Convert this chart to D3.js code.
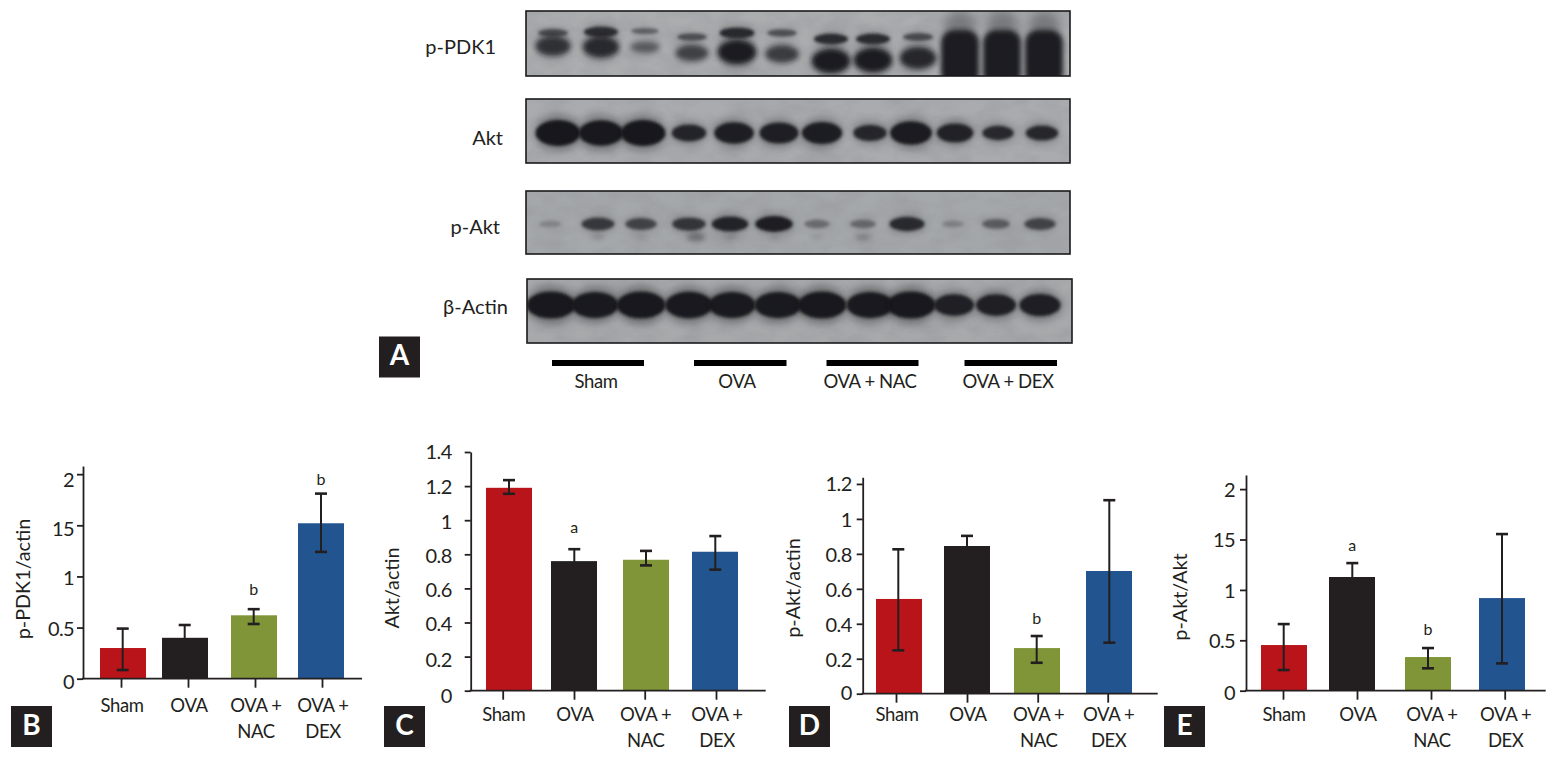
<!DOCTYPE html>
<html><head><meta charset="utf-8">
<script src="https://cdn.jsdelivr.net/npm/d3@7"></script>
<style>
html,body{margin:0;padding:0;background:#fff}
svg{display:block}
text{font-family:Lato,"Noto Sans",sans-serif;fill:#231f20}
</style></head><body>
<script>
// ---------- DATA ----------
const categories = ["Sham","OVA","OVA + NAC","OVA + DEX"];
const categoryLines = [["Sham"],["OVA"],["OVA +","NAC"],["OVA +","DEX"]];
const barColors = ["#b9141a","#231f20","#7f9537","#225490"];

const pdk1Means = [0.30,0.40,0.62,1.52];
const pdk1High  = [0.49,0.525,0.68,1.81];
const pdk1Low   = [0.085,0.30,0.535,1.24];
const pdk1Marks = ["","","b","b"];
const pdk1Ticks = [0,0.5,1,1.5,2];
const pdk1TickLabels = ["0","0.5","1","15","2"];

const aktMeans = [1.19,0.76,0.768,0.815];
const aktHigh  = [1.235,0.83,0.82,0.907];
const aktLow   = [1.155,0.70,0.735,0.71];
const aktMarks = ["","a","",""];
const aktTicks = [0,0.2,0.4,0.6,0.8,1,1.2,1.4];
const aktTickLabels = ["0","0.2","0.4","0.6","0.8","1","1.2","1.4"];

const pAktMeans = [0.542,0.845,0.261,0.702];
const pAktHigh  = [0.826,0.903,0.33,1.107];
const pAktLow   = [0.248,0.79,0.177,0.292];
const pAktMarks = ["","","b",""];
const pAktTicks = [0,0.2,0.4,0.6,0.8,1,1.2];
const pAktTickLabels = ["0","0.2","0.4","0.6","0.8","1","1.2"];

const ratioMeans = [0.453,1.128,0.334,0.919];
const ratioHigh  = [0.661,1.266,0.423,1.554];
const ratioLow   = [0.205,1.0,0.222,0.271];
const ratioMarks = ["","a","b",""];
const ratioTicks = [0,0.5,1,1.5,2];
const ratioTickLabels = ["0","0.5","1","15","2"];

// blot band strengths, 12 lanes (0 to 1), read by eye
const blotPdk1Upper = [.5,.85,.28,.45,.9,.45,.85,.85,.5,0,0,0];
const blotPdk1Lower = [.72,.82,.28,.55,1,.6,1,1,.85,0,0,0];
const blotPdk1Heavy = [0,0,0,0,0,0,0,0,0,1,1,1];
const blotAkt   = [1,.98,1,.5,.75,.72,.78,.45,.85,.6,.35,.4];
const blotPakt  = [.12,.72,.62,.75,.92,.98,.3,.32,.85,.12,.42,.62];
const blotPaktTail = [0,.15,.1,.55,.15,.05,.1,.32,0,0,0,0];
const blotActin = [1,.95,1,.97,.95,.95,1,.95,1,.75,.75,.78];

// ---------- LAYOUT ----------
const W = 1556, H = 757;
const panels = [
 {id:"B",title:"p-PDK1/actin",means:pdk1Means,high:pdk1High,low:pdk1Low,marks:pdk1Marks,ticks:pdk1Ticks,labels:pdk1TickLabels,
  axisX:83,axisEnd:362,y0:678.7,yTopPx:466,yTop:2.08,tickX:[121,188,255,322],barX:[123,185,254,321],errX:[122.7,184.7,253.7,321],
  nudge:[3,2,2,4,6],pad:3,titleX:25,titleY:579,markY:[0,0,591,481],badgeX:11,catY:712},
 {id:"C",title:"Akt/actin",means:aktMeans,high:aktHigh,low:aktLow,marks:aktMarks,ticks:aktTicks,labels:aktTickLabels,
  axisX:470.7,axisEnd:765.7,y0:690.7,yTopPx:452,yTop:1.4,tickX:[502.7,574,644.7,716],barX:[509,574,646,715],errX:[509,574.3,646,715.3],
  nudge:[5,3,2,2,2,2,1,0],pad:13,titleX:394,titleY:588,markY:[0,529,0,0],badgeX:384,catY:720.5},
 {id:"D",title:"p-Akt/actin",means:pAktMeans,high:pAktHigh,low:pAktLow,marks:pAktMarks,ticks:pAktTicks,labels:pAktTickLabels,
  axisX:862.7,axisEnd:1157.7,y0:693.7,yTopPx:477.3,yTop:1.238,tickX:[896,967,1037.7,1107.7],barX:[899,967,1037,1109],errX:[898.3,967,1036.7,1109.3],
  nudge:[-1,1,1,1,1,1,0],pad:5,titleX:795,titleY:588,markY:[0,0,620,0],badgeX:789,catY:720.5},
 {id:"E",title:"p-Akt/Akt",means:ratioMeans,high:ratioHigh,low:ratioLow,marks:ratioMarks,ticks:ratioTicks,labels:ratioTickLabels,
  axisX:1246,axisEnd:1545.7,y0:690.7,yTopPx:475,yTop:2.14,tickX:[1283,1357,1431,1504.7],barX:[1284,1352,1428,1502],errX:[1283.7,1352.3,1428,1502],
  nudge:[2,1,1,1,1],pad:5,titleX:1182,titleY:597,markY:[0,547,631,0],badgeX:1164,catY:720.5}
];
const barW = 46, capW = 12;
const laneIdx = d3.range(12);

const svg = d3.select("body").append("svg").attr("width",W).attr("height",H).attr("viewBox",`0 0 ${W} ${H}`);
const defs = svg.append("defs");
[["b1",1.6],["b2",2.6],["b4",4.5],["b6",6]].forEach(([id,s])=>{
  defs.append("filter").attr("id",id).attr("x","-50%").attr("y","-80%").attr("width","200%").attr("height","260%")
      .append("feGaussianBlur").attr("stdDeviation",s);
});
// grain for the film background
const grain = defs.append("filter").attr("id","grain").attr("x","0").attr("y","0").attr("width","100%").attr("height","100%");
grain.append("feTurbulence").attr("type","fractalNoise").attr("baseFrequency","0.035 0.06").attr("numOctaves",3).attr("seed",4);
grain.append("feColorMatrix").attr("values","0 0 0 0 0.2  0 0 0 0 0.2  0 0 0 0 0.22  0.9 0 0 0 -0.33");

// ---------- BLOTS ----------
const blotFrames = [
 {name:"p-PDK1",x:526,y:11,w:544,h:65,labelRight:496,labelY:49,bg:"#abadaf"},
 {name:"Akt",x:526,y:99,w:544,h:64,labelRight:503,labelY:140,bg:"#a9abae"},
 {name:"p-Akt",x:526,y:191,w:544,h:63,labelRight:500,labelY:229,bg:"#a5a8ab"},
 {name:"β-Actin",x:527,y:279,w:545,h:64,labelRight:508,labelY:309,bg:"#a7a9ab"}
];
function frame(f,i){
  const cid="clip"+i;
  defs.append("clipPath").attr("id",cid).append("rect").attr("x",f.x).attr("y",f.y).attr("width",f.w).attr("height",f.h);
  const g=svg.append("g").attr("clip-path",`url(#${cid})`);
  g.append("rect").attr("x",f.x).attr("y",f.y).attr("width",f.w).attr("height",f.h).attr("fill",f.bg);
  g.append("rect").attr("x",f.x).attr("y",f.y).attr("width",f.w).attr("height",f.h).attr("filter","url(#grain)").attr("opacity",.45);
  svg.append("text").attr("x",f.labelRight).attr("y",f.labelY).attr("text-anchor","end")
     .attr("dominant-baseline","middle").attr("font-size",20).text(f.name);
  return g;
}
function bands(g,series,laneX,rowY,wRange,hRange,opRange,blur,halo){
  const w=d3.scaleLinear().domain([0,1]).range(wRange);
  const h=d3.scaleLinear().domain([0,1]).range(hRange);
  const op=d3.scaleLinear().domain([0,1]).range(opRange);
  const yAt=i=>Array.isArray(rowY)?rowY[i]:rowY;
  const rows=laneIdx.filter(i=>series[i]>0);
  if(halo){
    g.selectAll(null).data(rows).join("ellipse")
      .attr("cx",i=>laneX(i)).attr("cy",yAt)
      .attr("rx",i=>w(series[i])*.52).attr("ry",i=>h(series[i])*.72)
      .attr("fill","#3a3a3e").attr("opacity",i=>op(series[i])*halo).attr("filter","url(#b4)");
  }
  g.selectAll(null).data(rows).join("ellipse")
    .attr("cx",i=>laneX(i)).attr("cy",yAt)
    .attr("rx",i=>w(series[i])/2).attr("ry",i=>h(series[i])/2)
    .attr("fill","#17171a").attr("opacity",i=>op(series[i])).attr("filter",`url(#${blur})`);
}
const lanes = arr => d3.scaleOrdinal().domain(laneIdx).range(arr);
const gP=frame(blotFrames[0],0), gA=frame(blotFrames[1],1), gPA=frame(blotFrames[2],2), gB=frame(blotFrames[3],3);

const pdk1Lanes=lanes([553,601,645,692,737,782,831,873,918,960,1002,1044]);
// heavy over-exposed lanes with smear above them
laneIdx.filter(i=>blotPdk1Heavy[i]>0).forEach(i=>{
  gP.append("ellipse").attr("cx",pdk1Lanes(i)).attr("cy",26).attr("rx",16).attr("ry",16).attr("fill","#55575a").attr("opacity",.6).attr("filter","url(#b6)");
  gP.append("rect").attr("x",pdk1Lanes(i)-19).attr("y",30).attr("width",38).attr("height",56).attr("rx",13).attr("fill","#1d1d20").attr("filter","url(#b2)");
});
bands(gP,blotPdk1Upper,pdk1Lanes,[33,32,31,37,33,33,39,39,37,0,0,0],[24,36],[4,12],[.28,.92],"b1",.35);
bands(gP,blotPdk1Lower,pdk1Lanes,[46,47,47,53,52,54,61,60,58,0,0,0],[26,38],[6,24],[.28,.95],"b2",.4);

bands(gA,blotAkt,lanes([558,601,643,689,734,779,822,870,911,955,998,1042]),133,[24,45],[8,26],[.75,.98],"b1",.45);
bands(gPA,blotPakt,lanes([550,598,641,689,730,774,817,863,907,953,996,1040]),224,[20,38],[5,16],[.12,.95],"b1",.35);
bands(gPA,blotPaktTail,lanes([550,598,641,696,730,774,817,863,907,953,996,1040]),237,[12,24],[4,14],[.1,.55],"b2");
bands(gB,blotActin,lanes([551,595,641,689,732,778,822,870,911,954,996,1040]),305,[14,49],[5,27],[.7,.97],"b1",.5);

blotFrames.forEach(f=>{
  svg.append("rect").attr("x",f.x).attr("y",f.y).attr("width",f.w).attr("height",f.h)
     .attr("fill","none").attr("stroke","#1a1a1c").attr("stroke-width",1.6);
});

// group bars + labels under the blots
const groupBarX = d3.scaleOrdinal().domain(categories).range([[552,644],[694,786.5],[826.5,918.5],[964.5,1057]]);
const groupLabelX = d3.scaleOrdinal().domain(categories).range([596,737,870,1008]);
svg.selectAll(null).data(categories).join("rect")
  .attr("x",d=>groupBarX(d)[0]).attr("y",360).attr("height",6)
  .attr("width",d=>groupBarX(d)[1]-groupBarX(d)[0]).attr("fill","#000");
svg.selectAll(null).data(categories).join("text")
  .attr("x",d=>groupLabelX(d)).attr("y",383).attr("text-anchor","middle").attr("dominant-baseline","middle")
  .attr("font-size",18.5).attr("letter-spacing",-0.4).text(d=>d);

// ---------- BAR PANELS ----------
function badge(letter,x,y,size){
  svg.append("rect").attr("x",x).attr("y",y).attr("width",size).attr("height",size).attr("fill","#231f20");
  svg.append("text").attr("x",x+size/2).attr("y",y+size/2+1).attr("text-anchor","middle").attr("dominant-baseline","middle")
     .attr("font-size",28).attr("font-weight",700).style("fill","#fff").text(letter);
}
badge("A",379,336.5,41);

panels.forEach(p=>{
  const g=svg.append("g");
  const y=d3.scaleLinear().domain([0,p.yTop]).range([p.y0,p.yTopPx]);
  const tick=d3.scaleOrdinal().domain(categories).range(p.tickX);
  const bar=d3.scaleOrdinal().domain(categories).range(p.barX);
  const err=d3.scaleOrdinal().domain(categories).range(p.errX);
  const rows=categories.map((c,i)=>({c,i,m:p.means[i],hi:p.high[i],lo:p.low[i],mark:p.marks[i]}));

  g.selectAll(".bar").data(rows).join("rect").attr("class","bar")
    .attr("x",d=>bar(d.c)-barW/2).attr("width",barW)
    .attr("y",d=>y(d.m)).attr("height",d=>p.y0-y(d.m)).attr("fill",d=>barColors[d.i]);

  const eg=g.selectAll(".err").data(rows).join("g").attr("class","err").attr("stroke","#231f20");
  eg.append("line").attr("stroke-width",2).attr("x1",d=>err(d.c)).attr("x2",d=>err(d.c)).attr("y1",d=>y(d.hi)).attr("y2",d=>y(d.lo));
  eg.append("line").attr("stroke-width",2.6).attr("x1",d=>err(d.c)-capW/2).attr("x2",d=>err(d.c)+capW/2).attr("y1",d=>y(d.hi)).attr("y2",d=>y(d.hi));
  eg.append("line").attr("stroke-width",2.6).attr("x1",d=>err(d.c)-capW/2).attr("x2",d=>err(d.c)+capW/2).attr("y1",d=>y(d.lo)).attr("y2",d=>y(d.lo));

  // y axis
  const ya=g.append("g").attr("transform",`translate(${p.axisX},0)`)
    .call(d3.axisLeft(y).tickValues(p.ticks).tickFormat((d,i)=>p.labels[i]).tickSize(6).tickSizeOuter(0).tickPadding(p.pad));
  ya.selectAll("path,line").attr("stroke","#231f20").attr("stroke-width",1.8);
  ya.selectAll("text").attr("font-size",20).attr("letter-spacing",-0.6).attr("font-family",null).attr("dy",(d,i)=>`${0.32+p.nudge[i]/20}em`).style("fill","#231f20");

  // x axis
  const xa=g.append("g").attr("transform",`translate(0,${p.y0})`).call(d3.axisBottom(tick).tickSize(9).tickFormat(""));
  xa.select(".domain").remove();
  xa.selectAll("line").attr("stroke","#231f20").attr("stroke-width",1.8);
  xa.append("line").attr("x1",p.axisX-1).attr("x2",p.axisEnd).attr("stroke","#231f20").attr("stroke-width",1.8);

  // category labels
  const cat=g.selectAll(".cat").data(rows).join("text").attr("class","cat")
    .attr("text-anchor","middle").attr("font-size",18.5).attr("letter-spacing",-0.4);
  cat.selectAll("tspan").data(d=>categoryLines[d.i].map(t=>({t,c:d.c}))).join("tspan")
    .attr("x",d=>tick(d.c)+1).attr("y",(d,i)=>p.catY+i*26).text(d=>d.t);

  // significance letters
  g.selectAll(".mark").data(rows.filter(d=>d.mark)).join("text").attr("class","mark")
    .attr("x",d=>err(d.c)).attr("y",d=>p.markY[d.i]).attr("text-anchor","middle").attr("dominant-baseline","middle")
    .attr("font-size",16).text(d=>d.mark);

  // y title
  g.append("text").attr("transform",`translate(${p.titleX},${p.titleY}) rotate(-90)`)
    .attr("text-anchor","middle").attr("dominant-baseline","middle").attr("font-size",19.8).text(p.title);

  badge(p.id,p.badgeX,706,41);
});
</script>
</body></html>
